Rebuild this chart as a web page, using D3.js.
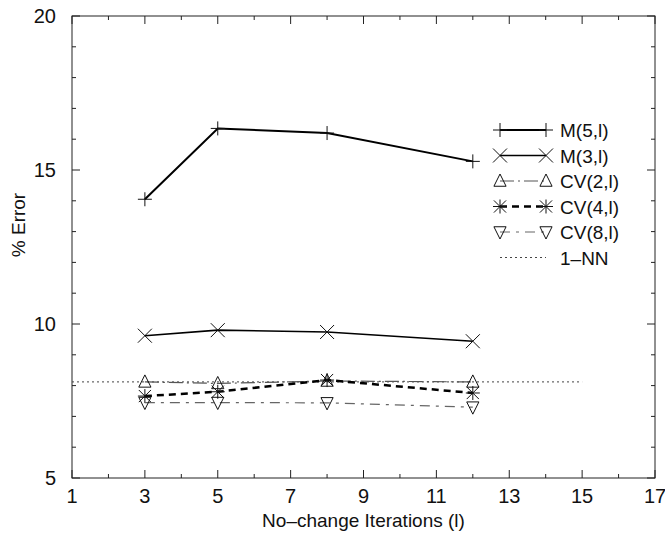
<!DOCTYPE html>
<html>
<head>
<meta charset="utf-8">
<script src="https://cdn.jsdelivr.net/npm/d3@7"></script>
<style>
  body { margin: 0; background: #fff; }
  text { font-family: "Liberation Sans", Helvetica, Arial, sans-serif; fill: #111; }
</style>
</head>
<body>
<svg id="chart" width="665" height="538"></svg>
<script>
// values
const iterations = [3, 5, 8, 12];
const m5 = [14.05, 16.35, 16.2, 15.28];
const m3 = [9.62, 9.8, 9.74, 9.44];
const cv2 = [8.12, 8.07, 8.15, 8.12];
const cv4 = [7.66, 7.8, 8.18, 7.76];
const cv8 = [7.45, 7.45, 7.44, 7.3];
const nnValue = 8.12;
const nnRange = [1, 15];
const xTicks = [1, 3, 5, 7, 9, 11, 13, 15, 17];
const yTicks = [5, 10, 15, 20];

const svg = d3.select("#chart");
const plotL = 72, plotR = 655, plotT = 16, plotB = 478;

const x = d3.scaleLinear().domain([1, 17]).range([plotL, plotR]);
const y = d3.scaleLinear().domain([5, 20]).range([plotB, plotT]);

// marker shapes, stroked
function marker(kind, s) {
  const t = s * 0.87;
  switch (kind) {
    case "plus": return `M${-s},0H${s}M0,${-s}V${s}`;
    case "cross": return `M${-s},${-s}L${s},${s}M${-s},${s}L${s},${-s}`;
    case "up": return `M0,${-s}L${t},${s * 0.75}L${-t},${s * 0.75}Z`;
    case "down": return `M0,${s}L${t},${-s * 0.75}L${-t},${-s * 0.75}Z`;
    case "star": return `M${-s},0H${s}M0,${-s}V${s}M${-t},${-t}L${t},${t}M${-t},${t}L${t},${-t}`;
  }
}

const series = [
  { name: "M(5,l)", values: m5, marker: "plus", stroke: "#000", width: 2, dash: null },
  { name: "M(3,l)", values: m3, marker: "cross", stroke: "#000", width: 1.6, dash: null },
  { name: "CV(2,l)", values: cv2, marker: "up", stroke: "#555", width: 1.2, dash: "14,4,2,4" },
  { name: "CV(4,l)", values: cv4, marker: "star", stroke: "#000", width: 2.5, dash: "7,5" },
  { name: "CV(8,l)", values: cv8, marker: "down", stroke: "#666", width: 1.2, dash: "10,6,3,6" }
];

// frame
svg.append("rect")
  .attr("x", plotL).attr("y", plotT)
  .attr("width", plotR - plotL).attr("height", plotB - plotT)
  .attr("fill", "none").attr("stroke", "#222").attr("stroke-width", 1);

// ticks, inward on all four sides
const ticksG = svg.append("g").attr("stroke", "#222").attr("stroke-width", 1);
d3.range(1, 18).forEach(v => {
  const len = v % 2 === 1 ? 8 : 4;
  ticksG.append("line").attr("x1", x(v)).attr("x2", x(v)).attr("y1", plotB).attr("y2", plotB - len);
  ticksG.append("line").attr("x1", x(v)).attr("x2", x(v)).attr("y1", plotT).attr("y2", plotT + len);
});
d3.range(5, 21).forEach(v => {
  const len = v % 5 === 0 ? 8 : 4;
  ticksG.append("line").attr("y1", y(v)).attr("y2", y(v)).attr("x1", plotL).attr("x2", plotL + len);
  ticksG.append("line").attr("y1", y(v)).attr("y2", y(v)).attr("x1", plotR).attr("x2", plotR - len);
});

// tick labels
svg.append("g").selectAll("text").data(xTicks).join("text")
  .attr("x", d => x(d)).attr("y", 503)
  .attr("text-anchor", "middle").attr("font-size", 20)
  .text(d => d);
svg.append("g").selectAll("text").data(yTicks).join("text")
  .attr("x", 56).attr("y", d => y(d) + 7)
  .attr("text-anchor", "end").attr("font-size", 20)
  .text(d => d);

// axis titles
svg.append("text")
  .attr("x", (plotL + plotR) / 2).attr("y", 527)
  .attr("text-anchor", "middle").attr("font-size", 19)
  .text("No\u2013change Iterations (l)");
svg.append("text")
  .attr("transform", `translate(25,225) rotate(-90)`)
  .attr("text-anchor", "middle").attr("font-size", 19)
  .text("% Error");

// 1-NN reference line
svg.append("line")
  .attr("x1", x(nnRange[0])).attr("x2", x(nnRange[1]))
  .attr("y1", y(nnValue)).attr("y2", y(nnValue))
  .attr("stroke", "#444").attr("stroke-width", 1).attr("stroke-dasharray", "2,3");

const line = d3.line().x(d => x(d[0])).y(d => y(d[1]));

series.forEach(s => {
  const pts = iterations.map((it, i) => [it, s.values[i]]);
  svg.append("path")
    .attr("d", line(pts))
    .attr("fill", "none")
    .attr("stroke", s.stroke)
    .attr("stroke-width", s.width)
    .attr("stroke-dasharray", s.dash);
  svg.append("g").selectAll("path").data(pts).join("path")
    .attr("transform", d => `translate(${x(d[0])},${y(d[1])})`)
    .attr("d", marker(s.marker, 7))
    .attr("fill", "none").attr("stroke", "#111").attr("stroke-width", 1);
});

// legend
const legX1 = 500, legX2 = 546, legText = 560, legY0 = 130, legStep = 25.5;
const legend = svg.append("g");
series.forEach((s, i) => {
  const ly = legY0 + i * legStep;
  legend.append("line")
    .attr("x1", legX1).attr("x2", legX2).attr("y1", ly).attr("y2", ly)
    .attr("stroke", s.stroke).attr("stroke-width", s.width).attr("stroke-dasharray", s.dash);
  [legX1, legX2].forEach(lx => {
    legend.append("path")
      .attr("transform", `translate(${lx},${ly})`)
      .attr("d", marker(s.marker, 7))
      .attr("fill", "none").attr("stroke", "#111").attr("stroke-width", 1);
  });
  legend.append("text")
    .attr("x", legText).attr("y", ly + 7).attr("font-size", 19)
    .text(s.name);
});
const nnY = legY0 + series.length * legStep;
legend.append("line")
  .attr("x1", legX1).attr("x2", legX2).attr("y1", nnY).attr("y2", nnY)
  .attr("stroke", "#444").attr("stroke-width", 1).attr("stroke-dasharray", "2,3");
legend.append("text")
  .attr("x", legText).attr("y", nnY + 7).attr("font-size", 19)
  .text("1\u2013NN");
</script>
</body>
</html>
